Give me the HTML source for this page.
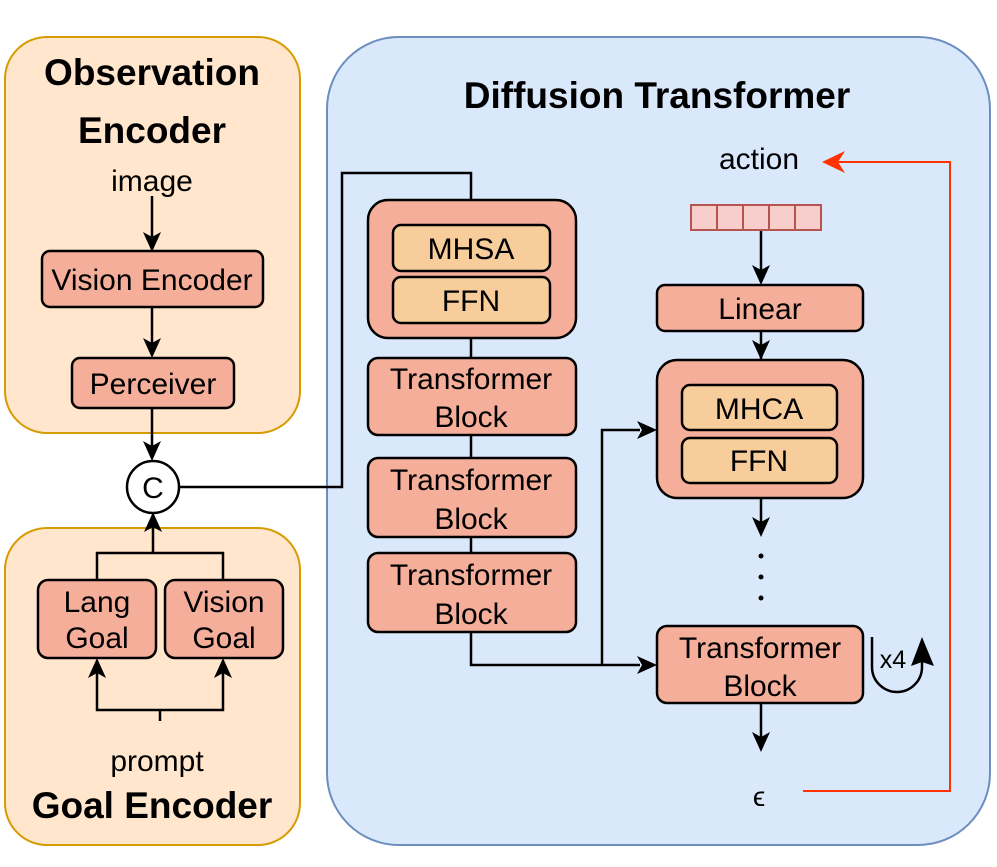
<!DOCTYPE html>
<html><head><meta charset="utf-8"><style>
html,body{margin:0;padding:0;background:#fff;}
svg{display:block;}
text{font-family:"Liberation Sans",sans-serif;fill:#000;}
.t{font-weight:bold;font-size:37px;}
.n{font-size:30px;}
</style></head><body>
<svg width="997" height="867" viewBox="0 0 997 867" xmlns="http://www.w3.org/2000/svg">
<rect x="5" y="37" width="295" height="396" rx="42" fill="#ffe6cc" stroke="#d79b00" stroke-width="2"/>
<rect x="5" y="528" width="295" height="317" rx="42" fill="#ffe6cc" stroke="#d79b00" stroke-width="2"/>
<rect x="327" y="37" width="663" height="808" rx="72" fill="#dae8fc" stroke="#6c8ebf" stroke-width="2"/>

<g text-anchor="middle">
<text class="t" x="152" y="85">Observation</text>
<text class="t" x="152" y="143">Encoder</text>
<text class="t" x="152" y="818">Goal Encoder</text>
<text class="t" x="657" y="108">Diffusion Transformer</text>
<text class="n" x="152" y="191">image</text>
<text class="n" x="157" y="771">prompt</text>
<text class="n" x="759" y="169">action</text>
<text x="759" y="806" font-size="28" font-family="DejaVu Serif,serif">ϵ</text>
</g>

<g stroke="#000" stroke-width="2.5" fill="none">
<line x1="152" y1="196" x2="152" y2="240"/>
<line x1="152" y1="307" x2="152" y2="346"/>
<line x1="152" y1="408" x2="152" y2="450"/>
<polyline points="97,580 97,553 223,553 223,580"/>
<line x1="153" y1="553" x2="153" y2="523"/>
<polyline points="97,670 97,710 223,710 223,670"/>
<line x1="160" y1="710" x2="160" y2="721"/>
<polyline points="179,487 342,487 342,173 471,173 471,200"/>
<line x1="471" y1="338" x2="471" y2="358"/>
<line x1="471" y1="435" x2="471" y2="458"/>
<line x1="471" y1="537" x2="471" y2="553"/>
<polyline points="471,632 471,665 640,665"/>
<polyline points="602,665 602,430 640,430"/>
<line x1="761" y1="230" x2="761" y2="272"/>
<line x1="761" y1="331" x2="761" y2="360"/>
<line x1="761" y1="498" x2="761" y2="525"/>
<line x1="761" y1="703" x2="761" y2="740"/>
<path d="M872 637 L872 667 A25 25 0 0 0 922 667 L922 660"/>
</g>
<g fill="#000">
<path d="M152 252 L143 232 L152 237 L161 232 Z"/>
<path d="M152 358 L143 338 L152 343 L161 338 Z"/>
<path d="M152 461 L143 441 L152 446 L161 441 Z"/>
<path d="M153 512 L144 532 L153 527 L162 532 Z"/>
<path d="M97 658 L88 678 L97 673 L106 678 Z"/>
<path d="M223 658 L214 678 L223 673 L232 678 Z"/>
<path d="M657 665 L637 656 L642 665 L637 674 Z"/>
<path d="M657 430 L637 421 L642 430 L637 439 Z"/>
<path d="M761 285 L752 265 L761 270 L770 265 Z"/>
<path d="M761 360 L752 340 L761 345 L770 340 Z"/>
<path d="M761 537 L752 517 L761 522 L770 517 Z"/>
<path d="M761 752 L752 732 L761 737 L770 732 Z"/>
<path d="M922 637 L911 666 L922 662 L934 666 Z"/>
<circle cx="761" cy="556" r="2.5"/><circle cx="761" cy="577" r="2.5"/><circle cx="761" cy="598" r="2.5"/>
</g>
<polyline points="803,791 950,791 950,162 838,162" stroke="#ff3300" stroke-width="2" fill="none"/>
<path d="M822 162 L845 151 L838 162 L845 173 Z" fill="#ff3300"/>

<g stroke="#000" stroke-width="2.5" fill="#f5ae9a">
<rect x="42" y="251" width="221" height="56" rx="8"/>
<rect x="72" y="358" width="162" height="50" rx="8"/>
<rect x="38" y="580" width="118" height="78" rx="10"/>
<rect x="165" y="580" width="118" height="78" rx="10"/>
<rect x="368" y="200" width="208" height="138" rx="20"/>
<rect x="368" y="358" width="208" height="77" rx="10"/>
<rect x="368" y="458" width="208" height="79" rx="10"/>
<rect x="368" y="553" width="208" height="79" rx="10"/>
<rect x="657" y="285" width="206" height="46" rx="8"/>
<rect x="657" y="360" width="206" height="138" rx="20"/>
<rect x="657" y="626" width="206" height="77" rx="10"/>
</g>
<g stroke="#000" stroke-width="2.5" fill="#f8cd9c">
<rect x="393" y="225" width="157" height="46" rx="8"/>
<rect x="393" y="277" width="157" height="46" rx="8"/>
<rect x="682" y="385" width="155" height="45" rx="8"/>
<rect x="682" y="438" width="155" height="45" rx="8"/>
</g>
<circle cx="153" cy="487" r="26" fill="#fff" stroke="#000" stroke-width="2.5"/>
<g fill="#f8cecc" stroke="#b85450" stroke-width="2">
<rect x="691" y="205" width="26" height="25"/><rect x="717" y="205" width="26" height="25"/><rect x="743" y="205" width="26" height="25"/><rect x="769" y="205" width="26" height="25"/><rect x="795" y="205" width="26" height="25"/>
</g>

<g text-anchor="middle">
<text class="n" x="152" y="290">Vision Encoder</text>
<text class="n" x="153" y="394">Perceiver</text>
<text class="n" x="153" y="498">C</text>
<text class="n" x="97" y="612">Lang</text><text class="n" x="97" y="648">Goal</text>
<text class="n" x="224" y="612">Vision</text><text class="n" x="224" y="648">Goal</text>
<text class="n" x="471" y="259">MHSA</text>
<text class="n" x="471" y="311">FFN</text>
<text class="n" x="471" y="389">Transformer</text><text class="n" x="471" y="427">Block</text>
<text class="n" x="471" y="490">Transformer</text><text class="n" x="471" y="529">Block</text>
<text class="n" x="471" y="585">Transformer</text><text class="n" x="471" y="624">Block</text>
<text class="n" x="760" y="319">Linear</text>
<text class="n" x="759" y="419">MHCA</text>
<text class="n" x="759" y="471">FFN</text>
<text class="n" x="760" y="658">Transformer</text><text class="n" x="760" y="696">Block</text>
<text x="893" y="668" font-size="25">x4</text>
</g>
</svg>
</body></html>
